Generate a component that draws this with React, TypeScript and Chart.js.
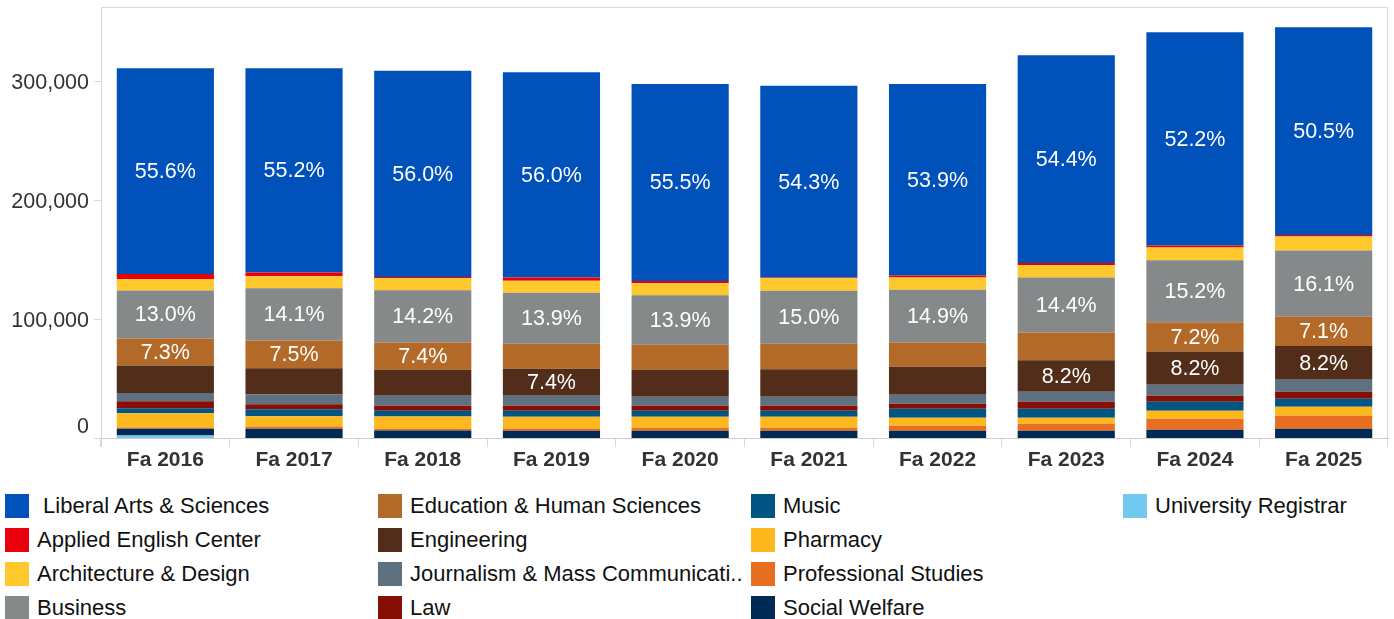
import React, { useEffect, useRef } from "react";
import { Chart, registerables } from "chart.js";

Chart.register(...registerables);

const categories = ["Fa 2016", "Fa 2017", "Fa 2018", "Fa 2019", "Fa 2020", "Fa 2021", "Fa 2022", "Fa 2023", "Fa 2024", "Fa 2025"];

const liberalArts = [172900, 171600, 173200, 172300, 165600, 161100, 160800, 174500, 179000, 174400];
const appliedEnglish = [4200, 3100, 800, 2800, 1900, 600, 1700, 1700, 1700, 1300];
const architecture = [9600, 10100, 10300, 10100, 10100, 10500, 10300, 10300, 10800, 11800];
const business = [40400, 43800, 43900, 42800, 41500, 44500, 44400, 46200, 51900, 55600];
const education = [22700, 23300, 22900, 21000, 21000, 21400, 20200, 23500, 24600, 24500];
const engineering = [23000, 21800, 21800, 22800, 22700, 23200, 23500, 26300, 28000, 28300];
const journalism = [7000, 8400, 8400, 8400, 7600, 7600, 7600, 8400, 9200, 10100];
const law = [5900, 4200, 4200, 4200, 4200, 4200, 4200, 5900, 5000, 5900];
const music = [4200, 5900, 4800, 5000, 5000, 5000, 7600, 7600, 7600, 6700];
const pharmacy = [11800, 8600, 10300, 9800, 9200, 9200, 6700, 5000, 6700, 7600];
const professionalStudies = [1100, 1900, 1400, 1900, 2500, 2500, 4200, 5900, 9200, 10900];
const socialWelfare = [5600, 7800, 6400, 6100, 6100, 6100, 6100, 6100, 7000, 7800];
const universityRegistrar = [2200, 0, 0, 0, 0, 0, 0, 0, 0, 0];

const liberalArtsLabels = ["55.6%", "55.2%", "56.0%", "56.0%", "55.5%", "54.3%", "53.9%", "54.4%", "52.2%", "50.5%"];
const businessLabels = ["13.0%", "14.1%", "14.2%", "13.9%", "13.9%", "15.0%", "14.9%", "14.4%", "15.2%", "16.1%"];
const educationLabels = ["7.3%", "7.5%", "7.4%", null, null, null, null, null, "7.2%", "7.1%"];
const engineeringLabels = [null, null, null, "7.4%", null, null, null, "8.2%", "8.2%", "8.2%"];

const yTicks = [0, 100000, 200000, 300000];

// legend order (top of stack first)
const seriesNames = [
  " Liberal Arts & Sciences",
  "Applied English Center",
  "Architecture & Design",
  "Business",
  "Education & Human Sciences",
  "Engineering",
  "Journalism & Mass Communicati..",
  "Law",
  "Music",
  "Pharmacy",
  "Professional Studies",
  "Social Welfare",
  "University Registrar",
];
const seriesValues = [
  liberalArts, appliedEnglish, architecture, business, education, engineering,
  journalism, law, music, pharmacy, professionalStudies, socialWelfare, universityRegistrar,
];
const seriesLabels: any[] = [
  liberalArtsLabels, null, null, businessLabels, educationLabels, engineeringLabels,
  null, null, null, null, null, null, null,
];
const seriesColors = [
  "#0051BA", "#E8000D", "#FFC82D", "#85898A", "#B36928", "#522E1A",
  "#5E7180", "#850F04", "#005582", "#FDB81D", "#E86F22", "#002A53", "#72C9F0",
];

const FONT = "'Liberation Sans', Arial, Helvetica, sans-serif";

const segmentLabelPlugin = {
  id: "segmentLabels",
  afterDatasetsDraw(chart: any) {
    const ctx = chart.ctx;
    ctx.save();
    ctx.font = `21.5px ${FONT}`;
    ctx.fillStyle = "#ffffff";
    ctx.textAlign = "center";
    ctx.textBaseline = "middle";
    chart.data.datasets.forEach((ds: any, i: number) => {
      if (!ds.pctLabels) return;
      const meta = chart.getDatasetMeta(i);
      meta.data.forEach((el: any, j: number) => {
        const lbl = ds.pctLabels[j];
        if (!lbl) return;
        const p = el.getProps(["x", "y", "base"], true);
        ctx.fillText(lbl, p.x, (p.y + p.base) / 2 + 1);
      });
    });
    ctx.restore();
  },
};

const frameAndYAxisPlugin = {
  id: "frameAndYAxis",
  afterDraw(chart: any) {
    const ctx = chart.ctx;
    const { left, right, top, bottom } = chart.chartArea;
    const ys = chart.scales.y;
    ctx.save();
    ctx.strokeStyle = "#d9d9d9";
    ctx.lineWidth = 1;
    ctx.beginPath();
    ctx.moveTo(left, top + 0.5);
    ctx.lineTo(right - 0.5, top + 0.5);
    ctx.lineTo(right - 0.5, bottom);
    ctx.stroke();
    ctx.beginPath();
    ctx.moveTo(left - 0.5, bottom);
    ctx.lineTo(left - 0.5, bottom + 9);
    ctx.stroke();
    ctx.font = `21.5px ${FONT}`;
    ctx.fillStyle = "#333333";
    ctx.textAlign = "right";
    ctx.textBaseline = "middle";
    yTicks.forEach((v) => {
      const y = Math.round(ys.getPixelForValue(v)) + 0.5;
      ctx.beginPath();
      ctx.moveTo(left - 7, y);
      ctx.lineTo(left, y);
      ctx.stroke();
      const text = v.toLocaleString("en-US");
      ctx.fillText(text, left - 12, v === 0 ? y - 11 : y + 1.5);
    });
    ctx.restore();
  },
};

function ChartCanvas() {
  const ref = useRef<HTMLCanvasElement | null>(null);
  useEffect(() => {
    if (!ref.current) return;
    const datasets = seriesNames
      .map((name, i) => ({
        label: name.trim(),
        data: seriesValues[i],
        backgroundColor: seriesColors[i],
        borderWidth: 0,
        pctLabels: seriesLabels[i],
        categoryPercentage: 1,
        barPercentage: 0.755,
      }))
      .reverse();
    const chart = new Chart(ref.current, {
      type: "bar",
      data: { labels: categories, datasets: datasets as any },
      options: {
        animation: false,
        responsive: false,
        maintainAspectRatio: false,
        layout: { padding: { top: 7, right: 6, left: 0, bottom: 0 } },
        plugins: { legend: { display: false }, tooltip: { enabled: false } },
        scales: {
          x: {
            stacked: true,
            grid: {
              display: true,
              offset: true,
              drawOnChartArea: false,
              drawTicks: true,
              tickLength: 9,
              color: "#d9d9d9",
            },
            border: { display: true, color: "#cccccc", dash: [3, 2] },
            ticks: {
              font: { family: FONT, size: 21, weight: "bold" },
              color: "#333333",
              padding: 1,
              maxRotation: 0,
            },
            afterFit(s: any) {
              s.height = 42;
            },
          },
          y: {
            stacked: true,
            min: 0,
            max: 362000,
            ticks: { display: false },
            grid: { display: false },
            border: { display: true, color: "#d9d9d9" },
            afterFit(s: any) {
              s.width = 101;
            },
          },
        } as any,
      },
      plugins: [segmentLabelPlugin, frameAndYAxisPlugin],
    });
    return () => chart.destroy();
  }, []);
  return <canvas ref={ref} width={1394} height={480} style={{ display: "block", width: 1394, height: 480 }} />;
}

const legendColumns = [[0, 1, 2, 3], [4, 5, 6, 7], [8, 9, 10, 11], [12]];
const legendColX = [5, 378, 751, 1123];
const legendRowY = [494, 528, 562, 596];

export default function App() {
  return (
    <div style={{ position: "absolute", left: 0, top: 0, width: 1394, height: 619, background: "#fff", overflow: "hidden" }}>
      <ChartCanvas />
      {legendColumns.map((col, ci) =>
        col.map((si, ri) => (
          <div
            key={si}
            style={{
              position: "absolute",
              left: legendColX[ci],
              top: legendRowY[ri],
              height: 24,
              display: "flex",
              alignItems: "center",
              whiteSpace: "pre",
            }}
          >
            <div style={{ width: 24, height: 24, background: seriesColors[si], flex: "none" }} />
            <span
              style={{
                marginLeft: 8,
                font: `22px ${FONT}`,
                color: "#111",
                lineHeight: "24px",
              }}
            >
              {seriesNames[si]}
            </span>
          </div>
        ))
      )}
    </div>
  );
}
